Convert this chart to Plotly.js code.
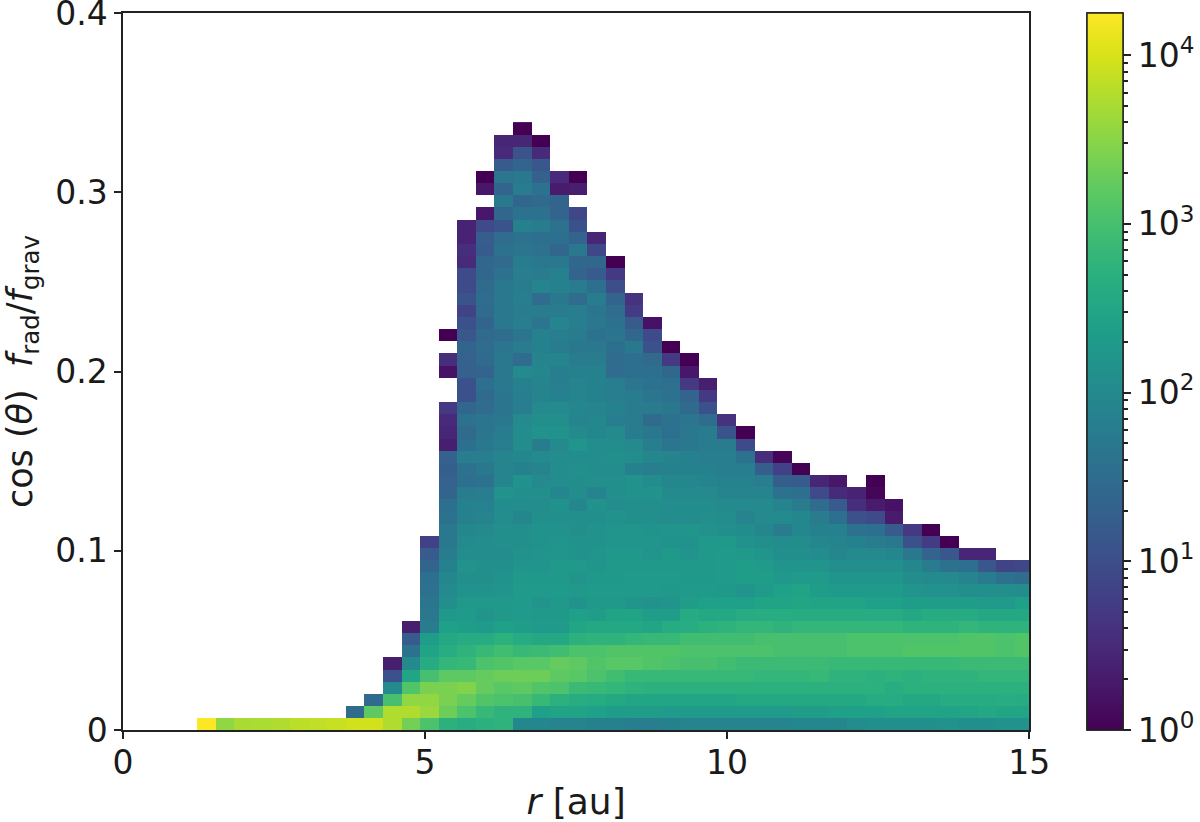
<!DOCTYPE html>
<html>
<head>
<meta charset="utf-8">
<script src="https://cdn.plot.ly/plotly-3.0.1.min.js"></script>
<style>
  html, body { margin: 0; padding: 0; background: #fff; }
  #chart { width: 1200px; height: 822px; }
</style>
</head>
<body>
<div id="chart"></div>
<script>
// histogram bins
const binStartR = 1.229;
const binWidthR = 0.3076;
const binHeight = 0.00678;

// log10(count) per r bin. Each column runs from its top cell down to the bottom bin, null = empty bin
const col0 = [4.25];
const col1 = [3.55];
const col2 = [3.7];
const col3 = [3.72];
const col4 = [3.75];
const col5 = [3.82];
const col6 = [3.85];
const col7 = [3.9];
const col8 = [1.45, 3.95];
const col9 = [1.45, 3.2, 3.97];
const col10 = [0.35, 1.05, 2.0, 3.0, 3.75, 3.75];
const col11 = [0.35, 1.2, 1.6, 2.0, 2.5, 3.1, 3.55, 3.75, 3.35];
const col12 = [0.8, 1.2, 1.35, 1.55, 1.6, 1.65, 1.7, 1.75, 2.35, 2.45, 2.6, 3.0, 3.4, 3.55, 3.6, 3.05];
const col13 = [0, null, 0.55, 0.2, null, null, 0.7, 0.5, 0.45, 0.35, 1.3, 1.25, 1.3, 1.35, 1.55, 1.6, 1.7, 1.7, 1.75, 1.85, 1.95, 2.0, 2.1, 2.25, 2.4, 2.55, 2.65, 2.8, 3.2, 3.4, 3.4, 3.3, 2.7];
const col14 = [0.4, 0.4, 0.55, 0.5, 0.95, 0.95, 1.1, 0.85, 1.05, 1.15, 1.35, 1.3, 1.3, 1.05, 1.05, 1.4, 1.6, 1.45, 1.55, 1.8, 1.6, 1.55, 1.75, 1.85, 1.85, 1.95, 2.0, 2.05, 2.15, 2.1, 2.15, 2.25, 2.3, 2.35, 2.6, 2.75, 2.85, 3.2, 3.45, 3.25, 3.05, 2.65];
const col15 = [0, 0.25, null, 0.25, 0.95, 1.25, 1.2, 1.4, 1.4, 1.45, 1.5, 1.45, 1.35, 1.45, 1.5, 1.45, 1.35, 1.55, 1.45, 1.5, 1.65, 1.65, 1.7, 1.8, 1.7, 1.6, 1.8, 1.85, 1.9, 2.0, 2.05, 2.05, 2.1, 2.1, 2.15, 2.25, 2.2, 2.3, 2.6, 2.85, 3.05, 3.25, 3.25, 3.1, 2.85, 2.7];
const col16 = [0.45, 0.5, 1.2, 1.65, 1.35, 1.7, 1.4, 1.1, 1.5, 1.6, 1.45, 1.6, 1.7, 1.7, 1.7, 1.7, 1.5, 1.65, 1.7, 1.7, 1.7, 1.65, 1.65, 1.7, 1.75, 1.8, 1.9, 1.9, 1.9, 2.15, 2.05, 2.05, 2.1, 2.1, 2.05, 2.1, 2.15, 2.2, 2.25, 2.25, 2.4, 2.7, 2.95, 3.1, 3.3, 3.15, 3.05, 2.75, 2.75];
const col17 = [0, 0.45, 1.1, 1.35, 1.7, 1.75, 1.4, 1.6, 1.85, 1.6, 1.65, 1.75, 1.8, 1.75, 1.8, 1.75, 1.8, 1.65, 1.75, 1.5, 2.0, 1.85, 1.8, 1.8, 2.0, 2.05, 2.05, 1.95, 1.85, 2.15, 2.1, 2.05, 1.95, 2.1, 2.1, 2.15, 2.2, 2.25, 2.3, 2.3, 2.3, 2.35, 2.6, 2.85, 3.15, 3.3, 3.2, 3.0, 2.75, 1.95];
const col18 = [0, 0.5, 1.15, 1.3, 1.6, 1.45, 1.6, 1.75, 1.55, 1.6, 1.7, 1.75, 1.9, 1.5, 1.75, 1.65, 1.85, 1.85, 1.9, 1.95, 1.9, 1.9, 2.0, 2.1, 2.15, 1.75, 2.0, 1.9, 2.0, 2.1, 2.05, 2.1, 2.15, 2.15, 2.2, 2.2, 2.25, 2.3, 2.2, 2.25, 2.3, 2.55, 2.9, 3.15, 3.3, 3.1, 2.85, 2.4, 1.95];
const col19 = [0.5, 0.3, 1.35, 1.35, 1.6, 1.55, 1.4, 1.7, 1.85, 1.85, 1.7, 1.75, 1.9, 1.8, 1.75, 1.9, 1.8, 1.8, 1.85, 2.0, 2.1, 2.15, 2.0, 2.05, 2.05, 2.05, 1.95, 2.15, 2.1, 2.15, 2.2, 2.2, 2.25, 2.25, 2.3, 2.25, 2.25, 2.3, 2.55, 2.95, 3.25, 3.2, 3.05, 2.7, 2.45, 1.9];
const col20 = [0, 0.35, null, 0.9, 1.05, 1.35, 1.7, 1.4, 1.35, 1.75, 1.5, 1.8, 1.8, 1.75, 1.7, 1.75, 1.85, 1.9, 1.9, 1.95, 1.9, 2.0, 2.2, 2.05, 2.1, 2.05, 2.05, 1.95, 2.1, 2.1, 2.15, 2.15, 2.25, 2.2, 2.25, 2.15, 2.4, 2.5, 2.7, 3.05, 3.2, 3.15, 2.9, 2.65, 2.45, 1.9];
const col21 = [0.45, 0.9, 1.4, 1.2, 1.55, 1.75, 1.65, 1.7, 1.6, 1.7, 1.75, 1.85, 1.85, 1.85, 1.9, 1.95, 1.95, 2.05, 2.05, 2.05, 2.1, 1.9, 2.15, 2.1, 2.15, 2.15, 2.2, 2.2, 2.25, 2.3, 2.25, 2.35, 2.55, 2.75, 3.05, 3.1, 3.05, 2.85, 2.6, 2.4, 1.85];
const col22 = [0, 0.7, 1.0, 1.35, 1.5, 1.6, 1.65, 1.55, 1.5, 1.5, 1.8, 1.8, 1.85, 1.8, 2.0, 2.05, 2.1, 2.05, 2.1, 2.1, 2.05, 2.15, 2.2, 2.2, 2.25, 2.25, 2.25, 2.3, 2.25, 2.45, 2.55, 2.75, 3.1, 3.15, 2.95, 2.8, 2.55, 2.35, 1.85];
const col23 = [0.6, 0.75, 1.2, 1.4, 1.7, 1.55, 1.55, 1.65, 1.75, 1.75, 1.75, 1.75, 2.0, 2.05, 1.85, 2.15, 2.15, 2.1, 2.1, 2.2, 2.2, 2.25, 2.25, 2.3, 2.3, 2.2, 2.45, 2.55, 2.8, 3.1, 3.15, 2.85, 2.75, 2.5, 2.35, 1.8];
const col24 = [0.2, 0.95, 1.05, 1.45, 1.55, 1.6, 1.65, 1.75, 1.45, 1.7, 1.8, 1.95, 1.8, 2.05, 2.15, 2.1, 2.1, 2.15, 2.2, 2.2, 2.25, 2.3, 2.3, 2.15, 2.35, 2.5, 2.85, 3.1, 3.1, 2.85, 2.7, 2.5, 2.35, 1.8];
const col25 = [0, 0.7, 1.4, 1.55, 1.6, 1.7, 1.6, 1.55, 1.65, 1.9, 1.85, 1.95, 2.0, 2.05, 2.05, 2.2, 2.15, 2.25, 2.25, 2.3, 2.25, 2.2, 2.35, 2.6, 2.85, 3.1, 3.05, 2.85, 2.7, 2.5, 2.3, 1.85];
const col26 = [0, 0.25, 0.7, 1.35, 1.45, 1.65, 1.7, 1.7, 1.85, 1.85, 1.95, 2.0, 2.05, 2.05, 2.2, 2.15, 2.2, 2.25, 2.25, 2.3, 2.35, 2.6, 2.65, 2.95, 3.05, 3.0, 2.85, 2.7, 2.5, 2.3, 1.9];
const col27 = [0.35, 0.7, 1.05, 1.5, 1.75, 1.75, 1.8, 1.85, 1.9, 2.0, 2.05, 2.1, 2.15, 2.25, 2.25, 2.25, 2.25, 2.3, 2.4, 2.55, 2.7, 2.95, 3.05, 3.0, 2.85, 2.7, 2.5, 2.3, 1.9];
const col28 = [0.6, 1.1, 1.75, 1.8, 1.8, 1.85, 1.9, 2.0, 2.05, 2.1, 2.25, 2.3, 2.3, 2.3, 2.25, 2.4, 2.55, 2.75, 2.95, 3.05, 2.95, 2.85, 2.7, 2.5, 2.3, 1.9];
const col29 = [0, 0.95, 1.6, 1.8, 1.85, 1.9, 2.0, 1.9, 2.05, 2.15, 2.25, 2.35, 2.35, 2.2, 2.4, 2.6, 2.8, 2.95, 3.05, 2.9, 2.85, 2.7, 2.55, 2.3, 1.9];
const col30 = [0.55, 1.25, 1.8, 1.9, 2.0, 2.0, 1.95, 2.1, 2.2, 2.3, 2.35, 2.3, 2.45, 2.65, 2.8, 3.0, 3.05, 2.9, 2.8, 2.7, 2.55, 2.3, 1.9];
const col31 = [0.05, 0.8, 1.25, 1.6, 1.9, 2.0, 1.75, 2.05, 2.1, 2.2, 2.25, 2.4, 2.45, 2.65, 2.75, 3.0, 3.0, 2.9, 2.8, 2.7, 2.55, 2.3, 1.9];
const col32 = [0, 1.2, 1.55, 1.75, 1.95, 1.95, 2.05, 2.1, 2.2, 2.3, 2.45, 2.5, 2.6, 2.8, 3.0, 3.0, 2.9, 2.8, 2.7, 2.55, 2.35, 1.95];
const col33 = [0.45, 0.95, 1.5, 1.75, 1.85, 1.95, 2.05, 2.2, 2.3, 2.35, 2.45, 2.6, 2.8, 3.0, 3.0, 2.9, 2.85, 2.7, 2.55, 2.35, 1.95];
const col34 = [0.25, 0.5, 1.2, 1.55, 1.85, 1.9, 1.95, 2.1, 2.2, 2.3, 2.45, 2.6, 2.8, 3.0, 3.0, 2.85, 2.75, 2.7, 2.55, 2.4, 1.95];
const col35 = [0.4, 0.55, 1.05, 1.6, 1.85, 2.0, 2.1, 2.2, 2.3, 2.45, 2.6, 2.8, 3.05, 3.05, 2.85, 2.75, 2.7, 2.55, 2.4, 2.05];
const col36 = [0, 0.05, 0.3, 0.95, 1.55, 1.75, 2.0, 2.1, 2.2, 2.3, 2.4, 2.6, 2.8, 3.05, 3.05, 2.85, 2.7, 2.7, 2.6, 2.4, 2.1];
const col37 = [0.2, 0.3, 1.2, 1.7, 1.95, 2.1, 2.2, 2.3, 2.4, 2.6, 2.8, 3.05, 3.05, 2.85, 2.75, 2.65, 2.6, 2.45, 2.1];
const col38 = [0.7, 1.05, 1.7, 1.95, 2.05, 2.2, 2.35, 2.55, 2.75, 3.05, 3.1, 2.85, 2.7, 2.7, 2.55, 2.45, 2.1];
const col39 = [0, 0.75, 1.35, 1.75, 2.0, 2.15, 2.35, 2.6, 2.75, 3.05, 3.1, 2.85, 2.75, 2.7, 2.55, 2.45, 2.1];
const col40 = [0, 1.15, 1.6, 2.0, 2.15, 2.35, 2.6, 2.75, 3.05, 3.1, 2.85, 2.75, 2.7, 2.6, 2.45, 2.15];
const col41 = [0.45, 1.55, 1.9, 2.1, 2.35, 2.6, 2.8, 3.1, 3.1, 2.9, 2.75, 2.7, 2.6, 2.5, 2.1];
const col42 = [0.45, 1.15, 1.75, 2.1, 2.3, 2.55, 2.75, 3.1, 3.1, 2.9, 2.8, 2.7, 2.6, 2.55, 2.1];
const col43 = [0.85, 1.6, 2.1, 2.3, 2.55, 2.75, 3.05, 3.05, 2.9, 2.8, 2.7, 2.65, 2.5, 2.15];
const col44 = [0.9, 1.5, 2.05, 2.4, 2.55, 2.75, 3.1, 3.1, 2.9, 2.8, 2.7, 2.6, 2.5, 2.15];

const columns = [col0, col1, col2, col3, col4, col5, col6, col7, col8, col9, col10, col11, col12, col13, col14,
  col15, col16, col17, col18, col19, col20, col21, col22, col23, col24, col25, col26, col27, col28, col29,
  col30, col31, col32, col33, col34, col35, col36, col37, col38, col39, col40, col41, col42, col43, col44];

const xTicks = [0, 5, 10, 15];
const yTicks = [0, 0.1, 0.2, 0.3, 0.4];
const yTickText = ["0", "0.1", "0.2", "0.3", "0.4"];
const cbarMajor = [1, 10, 100, 1000, 10000];
const cbarMajorText = ["10<sup>0</sup>", "10<sup>1</sup>", "10<sup>2</sup>", "10<sup>3</sup>", "10<sup>4</sup>"];
const cbarMinor = [2, 3, 4, 5, 6, 7, 8, 9, 20, 30, 40, 50, 60, 70, 80, 90, 200, 300, 400, 500, 600, 700, 800, 900,
  2000, 3000, 4000, 5000, 6000, 7000, 8000, 9000];
const logMax = 4.25;

const nRows = Math.max(...columns.map((c) => c.length));
const z = [];
for (let j = 0; j < nRows; j++) {
  z.push(columns.map((c) => {
    const v = c[c.length - 1 - j];
    return v === undefined ? null : v;
  }));
}

const FONT = "DejaVu Sans, sans-serif";
const INK = "#1a1a1a";

function histTrace(colorbar) {
  return {
    type: "heatmap",
    z: z,
    x0: binStartR + binWidthR / 2,
    dx: binWidthR,
    y0: binHeight / 2,
    dy: binHeight,
    zmin: 0,
    zmax: logMax,
    colorscale: "Viridis",
    hoverinfo: "skip",
    colorbar: Object.assign({
      // plot area ends before the bar via the x domain, so the bar does not push the margin
      x: 0.8993,
      xanchor: "left",
      xpad: 0,
      y: 0,
      yanchor: "bottom",
      ypad: 0,
      len: 1,
      lenmode: "fraction",
      thickness: 36,
      thicknessmode: "pixels",
      outlinecolor: "#222",
      outlinewidth: 1.5,
      ticks: "outside",
      tickcolor: "#222",
      tickwidth: 1.5,
      ticklabeloverflow: "allow",
      tickfont: { family: FONT, size: 33, color: INK },
    }, colorbar),
  };
}

const data = [
  // second copy only carries the shorter minor ticks of the log colour bar
  histTrace({
    tickmode: "array",
    tickvals: cbarMinor.map(Math.log10),
    ticktext: cbarMinor.map(() => ""),
    ticklen: 5,
  }),
  histTrace({
    tickmode: "array",
    tickvals: cbarMajor.map(Math.log10),
    ticktext: cbarMajorText,
    ticklen: 8,
  }),
];

const layout = {
  width: 1200,
  height: 822,
  margin: { l: 123, r: 5, t: 13, b: 92 },
  paper_bgcolor: "#fff",
  plot_bgcolor: "#fff",
  font: { family: FONT, color: INK },
  xaxis: {
    domain: [0, 0.8461],
    range: [0, 15],
    tickmode: "array",
    tickvals: xTicks,
    ticktext: xTicks.map(String),
    ticks: "outside",
    ticklen: 7,
    tickwidth: 1.5,
    tickcolor: "#222",
    ticklabeloverflow: "allow",
    ticklabelstandoff: -4,
    tickfont: { family: FONT, size: 33, color: INK },
    showgrid: false,
    zeroline: false,
    showline: true,
    mirror: true,
    linecolor: "#222",
    linewidth: 1.5,
    title: { text: "<i>r</i> [au]", font: { family: FONT, size: 36, color: INK }, standoff: 10 },
  },
  yaxis: {
    range: [0, 0.4],
    tickmode: "array",
    tickvals: yTicks,
    ticktext: yTickText,
    ticks: "outside",
    ticklen: 7,
    tickwidth: 1.5,
    tickcolor: "#222",
    ticklabeloverflow: "allow",
    tickfont: { family: FONT, size: 33, color: INK },
    showgrid: false,
    zeroline: false,
    showline: true,
    mirror: true,
    linecolor: "#222",
    linewidth: 1.5,
    title: {
      text: "cos (<i>θ</i>)  <i>f</i><sub>rad</sub>/<i>f</i><sub>grav</sub>",
      font: { family: FONT, size: 35, color: INK },
      standoff: 26,
    },
  },
};

Plotly.newPlot("chart", data, layout, { displayModeBar: false, responsive: false });
</script>
</body>
</html>
